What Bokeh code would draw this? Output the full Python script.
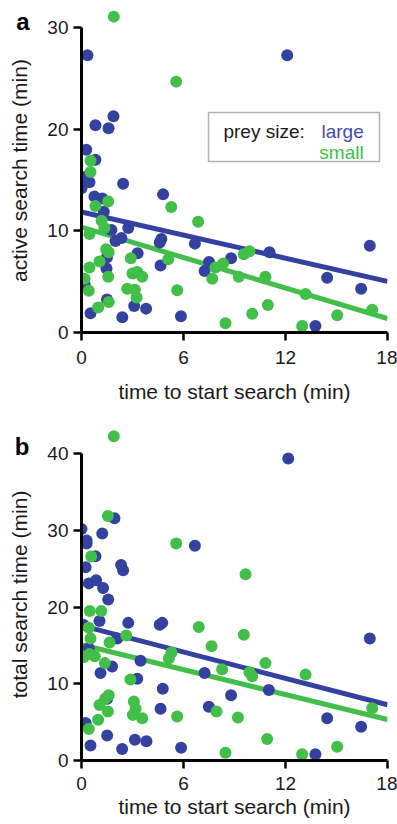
import numpy as np
from bokeh.plotting import figure
from bokeh.layouts import column
from bokeh.models import Range1d, Label, BoxAnnotation, FixedTicker, LinearAxis
from bokeh.embed import file_html
from bokeh.resources import INLINE

BLUE = "#3441A0"
GREEN = "#41BF48"
FONT = "Liberation Sans"

x_ticks = [0, 6, 12, 18]
a_y_ticks = [0, 10, 20, 30]
b_y_ticks = [0, 10, 20, 30, 40]

# ---- panel a: active search time ----
a_large_x = [0.35, 12.1, 0.82, 1.59, 1.88, 0.28, 0.82, 0.19, 0.47, 0.0, 2.45, 4.8, 0.76, 1.22, 1.31,
             1.76, 2.75, 2.35, 2.0, 4.7, 4.6, 6.67, 3.3, 1.5, 1.47, 4.65, 0.18, 1.5, 0.53, 3.1,
             3.8, 2.4, 5.85, 11.06, 7.5, 7.24, 8.8, 14.45, 16.45, 16.96, 13.76]
a_large_y = [27.3, 27.3, 20.4, 20.1, 21.3, 18.0, 17.0, 15.3, 14.8, 14.2, 14.65, 13.6, 13.4, 13.2, 11.9,
             10.1, 10.3, 9.3, 9.0, 9.2, 8.85, 8.75, 7.8, 7.4, 6.3, 6.6, 4.75, 3.25, 1.9, 2.6,
             2.35, 1.5, 1.6, 7.9, 6.95, 6.06, 7.3, 5.4, 4.3, 8.55, 0.65]
a_small_x = [1.9, 5.57, 0.53, 0.53, 1.57, 0.82, 5.28, 6.86, 1.18, 1.35, 0.47, 1.45, 1.6, 2.9, 5.1,
             0.47, 1.06, 0.18, 1.57, 3.0, 3.28, 3.57, 0.43, 2.69, 3.14, 3.24, 5.63, 1.6, 0.98,
             9.55, 9.88, 7.88, 8.33, 7.69, 9.25, 10.82, 13.18, 10.96, 10.04, 8.47, 12.98, 15.04, 17.1]
a_small_y = [31.1, 24.7, 16.9, 15.8, 12.9, 12.45, 12.35, 10.9, 11.0, 10.3, 9.7, 8.2, 7.9, 7.3, 7.2,
             6.4, 7.0, 5.3, 5.5, 5.8, 5.95, 5.5, 4.1, 4.3, 4.2, 3.45, 4.15, 3.0, 2.45,
             7.7, 8.0, 6.4, 6.8, 5.3, 5.5, 5.5, 3.8, 2.7, 1.85, 0.9, 0.65, 1.7, 2.25]
# regression lines (intercept, slope)
a_fit_large = (11.86, -0.379)
a_fit_small = (10.38, -0.50)

# ---- panel b: total search time ----
b_large_x = [12.16, 1.94, 0.0, 0.3, 0.3, 1.22, 0.82, 0.24, 2.33, 2.45, 0.43, 0.86, 1.27, 1.57, 6.67,
             1.06, 2.75, 4.6, 4.75, 0.1, 2.1, 0.43, 1.8, 1.12, 3.47, 3.28, 4.78, 1.51, 4.65, 0.24,
             0.53, 1.51, 2.39, 3.14, 3.82, 5.86, 7.24, 11.02, 8.8, 7.49, 16.96, 14.45, 16.45, 13.76]
b_large_y = [39.4, 31.6, 30.2, 28.7, 28.3, 29.6, 26.65, 25.2, 25.5, 24.8, 23.1, 23.5, 22.5, 21.0, 28.0,
             18.2, 17.95, 17.7, 17.95, 17.7, 15.9, 14.65, 12.25, 11.4, 13.0, 10.65, 9.35, 8.05, 6.75, 4.9,
             1.95, 3.25, 1.5, 2.7, 2.5, 1.65, 11.4, 9.2, 8.5, 7.0, 15.9, 5.5, 4.4, 0.8]
b_small_x = [1.9, 1.55, 0.57, 5.57, 9.65, 0.49, 1.16, 0.43, 6.9, 2.63, 0.53, 1.65, 0.14, 0.78, 0.47,
             1.37, 5.29, 5.14, 2.88, 1.6, 1.4, 1.06, 1.55, 3.08, 3.18, 3.02, 3.57, 5.63, 0.98, 0.43,
             9.55, 7.65, 10.82, 13.18, 8.27, 9.88, 10.04, 7.94, 9.2, 17.1, 10.92, 15.04, 8.47, 12.98]
b_small_y = [42.3, 31.9, 26.6, 28.3, 24.3, 19.5, 19.5, 17.3, 17.4, 16.3, 15.9, 15.4, 13.5, 13.6, 13.9,
             12.7, 14.1, 13.3, 10.55, 8.5, 8.1, 7.25, 6.4, 7.7, 6.75, 5.95, 5.5, 5.75, 5.3, 4.1,
             16.4, 14.9, 12.7, 11.2, 11.9, 11.5, 11.0, 6.4, 5.6, 6.8, 2.8, 1.8, 1.0, 0.8]
b_fit_large = (17.6, -0.574)
b_fit_small = (15.1, -0.542)

x_label = "time to start search (min)"
a_ylabel = "active search time (min)"
b_ylabel = "total search time (min)"
panel_letters = ["a", "b"]
letter_pos = [30.6, 41.0]   # y value at which each panel letter sits


def style_axes(p, yticks, ylabel, xlab_off, xlab_standoff):
    for ax in (p.xaxis[0], p.yaxis[0]):
        ax.axis_line_width = 3
        ax.axis_line_color = "black"
        ax.major_tick_line_width = 2.5
        ax.major_tick_line_color = "black"
        ax.major_tick_out = 8
        ax.major_tick_in = 0
        ax.minor_tick_out = 0
        ax.minor_tick_in = 0
        ax.major_label_text_font = FONT
        ax.major_label_text_font_size = "19px"
        ax.major_label_text_color = "#1a1a1a"
        ax.axis_label_text_font = FONT
        ax.axis_label_text_font_size = "21px"
        ax.axis_label_text_font_style = "normal"
        ax.axis_label_text_color = "#1a1a1a"
    xa, ya = p.xaxis[0], p.yaxis[0]
    xa.ticker = FixedTicker(ticks=x_ticks)
    xa.bounds = (x_ticks[0], x_ticks[-1])
    xa.axis_label = x_label
    xa.major_label_standoff = xlab_off
    xa.axis_label_standoff = xlab_standoff
    ya.ticker = FixedTicker(ticks=yticks)
    ya.bounds = (yticks[0], yticks[-1])
    ya.axis_label = ylabel
    ya.major_label_standoff = 5
    ya.axis_label_standoff = 13
    p.xgrid.visible = False
    p.ygrid.visible = False
    p.outline_line_color = None


def add_letter(p, letter, pos):
    ax = LinearAxis(ticker=FixedTicker(ticks=[pos]), major_label_overrides={pos: letter},
                    axis_line_color=None, major_tick_line_color=None, minor_tick_line_color=None,
                    major_tick_out=0, major_tick_in=0, minor_tick_out=0, minor_tick_in=0,
                    major_label_standoff=-24, major_label_text_font=FONT,
                    major_label_text_font_size="24px", major_label_text_font_style="bold",
                    major_label_text_color="black")
    p.add_layout(ax, "left")


def draw(p, lx, ly, sx, sy, fit_l, fit_s):
    xs = np.array([x_ticks[0], x_ticks[-1]], dtype=float)
    p.line(xs, fit_l[0] + fit_l[1] * xs, line_color=BLUE, line_width=5)
    p.line(xs, fit_s[0] + fit_s[1] * xs, line_color=GREEN, line_width=5)
    p.scatter(lx, ly, size=12, fill_color=BLUE, line_color=None)
    p.scatter(sx, sy, size=12, fill_color=GREEN, line_color=None)


pa = figure(width=397, height=407, output_backend="svg", toolbar_location=None,
            x_range=Range1d(0, 18), y_range=Range1d(0, 31.9),
            min_border_left=81, min_border_right=10, min_border_top=8, min_border_bottom=75)
style_axes(pa, a_y_ticks, a_ylabel, 10, 13)
add_letter(pa, panel_letters[0], letter_pos[0])
draw(pa, a_large_x, a_large_y, a_small_x, a_small_y, a_fit_large, a_fit_small)
pa.add_layout(BoxAnnotation(left=7.47, right=17.53, top=21.66, bottom=16.84,
                            fill_color=None, fill_alpha=0, line_color="black", line_width=1.5))
pa.add_layout(Label(x=8.35, y=19.75, text="prey size:", text_font=FONT, text_font_size="19px",
                    text_baseline="alphabetic", text_align="left", text_color="#1a1a1a"))
pa.add_layout(Label(x=16.6, y=19.75, text="large", text_font=FONT, text_font_size="19px",
                    text_baseline="alphabetic", text_align="right", text_color="#3F4DB0"))
pa.add_layout(Label(x=16.6, y=17.7, text="small", text_font=FONT, text_font_size="19px",
                    text_baseline="alphabetic", text_align="right", text_color=GREEN))

pb = figure(width=397, height=417, output_backend="svg", toolbar_location=None,
            x_range=Range1d(0, 18), y_range=Range1d(0, 43.3),
            min_border_left=81, min_border_right=10, min_border_top=21, min_border_bottom=64)
style_axes(pb, b_y_ticks, b_ylabel, 8, 2)
add_letter(pb, panel_letters[1], letter_pos[1])
draw(pb, b_large_x, b_large_y, b_small_x, b_small_y, b_fit_large, b_fit_small)

layout = column(pa, pb, spacing=0)
open("out.html", "w").write(file_html(layout, INLINE))
